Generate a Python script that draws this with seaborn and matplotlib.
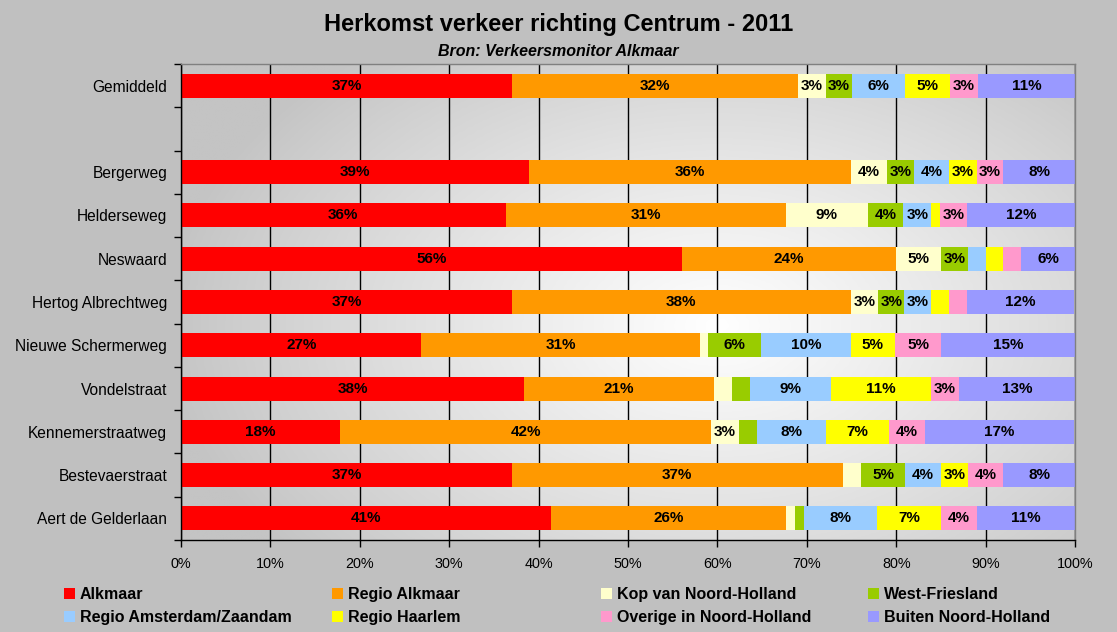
import numpy as np
import pandas as pd
import matplotlib
matplotlib.use('Agg')
import matplotlib.pyplot as plt
from matplotlib.colors import LinearSegmentedColormap
from matplotlib.patches import Patch
import seaborn as sns

# -----------------------------
# Data (percentages per herkomst)
# -----------------------------
straten = ['Gemiddeld', 'Bergerweg', 'Helderseweg', 'Neswaard', 'Hertog Albrechtweg',
           'Nieuwe Schermerweg', 'Vondelstraat', 'Kennemerstraatweg', 'Bestevaerstraat',
           'Aert de Gelderlaan']

alkmaar        = [37.0, 38.9, 36.3, 56.0, 37.0, 26.9, 38.4, 17.8, 37.0, 41.4]
regio_alkmaar  = [32.0, 36.0, 31.4, 24.0, 37.9, 31.1, 21.2, 41.5, 37.0, 26.3]
kop_nh         = [3.1, 4.1, 9.1, 5.0, 3.1, 1.0, 2.0, 3.1, 2.1, 1.0]
west_friesland = [2.9, 3.0, 4.0, 3.0, 2.9, 5.9, 2.0, 2.0, 4.9, 1.0]
regio_adam     = [6.0, 3.9, 3.1, 2.0, 3.0, 10.0, 9.1, 7.8, 4.0, 8.2]
regio_haarlem  = [5.0, 3.1, 1.0, 2.0, 2.0, 5.0, 11.2, 7.0, 3.0, 7.1]
overige_nh     = [3.1, 3.0, 3.0, 2.0, 2.0, 5.1, 3.1, 4.0, 4.0, 4.0]
buiten_nh      = [11.0, 8.0, 12.1, 6.0, 12.0, 15.0, 13.0, 16.7, 8.0, 11.1]

reeksen = ['Alkmaar', 'Regio Alkmaar', 'Kop van Noord-Holland', 'West-Friesland',
           'Regio Amsterdam/Zaandam', 'Regio Haarlem', 'Overige in Noord-Holland',
           'Buiten Noord-Holland']
waarden = [alkmaar, regio_alkmaar, kop_nh, west_friesland, regio_adam,
           regio_haarlem, overige_nh, buiten_nh]
kleuren = ['#FF0000', '#FF9900', '#FFFFCC', '#99CC00', '#99CCFF', '#FFFF00',
           '#FF99CC', '#9999FF']

# empty slot between Gemiddeld and the streets
order = [straten[0], ' '] + straten[1:]

plt.rcParams['font.family'] = ['Liberation Sans', 'DejaVu Sans']

fig = plt.figure(figsize=(11.17, 6.32), dpi=100, facecolor='#C0C0C0')
ax = fig.add_axes([181 / 1117, 1 - 540 / 632, 894 / 1117, 476 / 632])
ax.set_facecolor('none')

# background gradient of the plot area
gx, gy = np.meshgrid(np.linspace(0, 1, 300), np.linspace(0, 1, 200))
r = np.sqrt(((gx - 0.6) / 0.62) ** 2 + ((gy - 0.55) / 0.75) ** 2)
grad = np.clip(1 - r, 0, 1) ** 0.9
cmap = LinearSegmentedColormap.from_list('bg', ['#C4C4C4', '#FFFFFF'])
ax.imshow(grad, extent=[0, 100, 10.5, -0.5], aspect='auto', cmap=cmap,
          vmin=0, vmax=1, zorder=0, interpolation='bilinear')

# stacked bars: draw cumulative totals from the outermost series inwards
cum = np.cumsum(np.array(waarden), axis=0)
for k in range(len(reeksen) - 1, -1, -1):
    df = pd.DataFrame({'straat': straten, 'cum': cum[k]})
    sns.barplot(data=df, x='cum', y='straat', order=order, color=kleuren[k],
                orient='h', width=0.555, linewidth=0, errorbar=None,
                saturation=1, ax=ax)

# value labels
for k in range(len(reeksen)):
    for i, s in enumerate(straten):
        v = waarden[k][i]
        if v >= 2.5:
            mid = cum[k][i] - v / 2
            ax.text(mid, order.index(s), f'{int(v + 0.5)}%', ha='center', va='center',
                    fontsize=11, fontweight='bold', color='black', zorder=5)

ax.set_xlim(0, 100)
ax.set_ylim(10.5, -0.5)
ax.set_xlabel('')
ax.set_ylabel('')

ax.set_xticks(range(0, 101, 10))
ax.set_xticklabels([f'{t}%' for t in range(0, 101, 10)], fontsize=10.4)
ax.tick_params(axis='x', direction='out', length=5, width=1, color='black', pad=7)
ax.set_yticks(range(len(order)))
ax.set_yticklabels(order, fontsize=11.2)
ax.tick_params(axis='y', length=0, pad=10)
ax.set_yticks(np.arange(-0.5, 10.6, 1), minor=True)
ax.tick_params(axis='y', which='minor', direction='out', length=5, width=1, color='black')

ax.xaxis.grid(True, color='black', linewidth=1)
ax.yaxis.grid(False)
ax.set_axisbelow(True)
for side in ['left', 'bottom']:
    ax.spines[side].set_color('black')
    ax.spines[side].set_linewidth(1)
for side in ['top', 'right']:
    ax.spines[side].set_color('#808080')
    ax.spines[side].set_linewidth(1)

fig.text(0.5, 1 - 25 / 632, 'Herkomst verkeer richting Centrum - 2011', ha='center',
         va='center', fontsize=17, fontweight='bold')
fig.text(0.5, 1 - 52 / 632, 'Bron: Verkeersmonitor Alkmaar', ha='center', va='center',
         fontsize=11.5, fontweight='bold', style='italic')

# legend: four columns, two rows each
kolom_x = [64, 332, 601, 868]
for c in range(4):
    idx = [c, c + 4]
    handles = [Patch(facecolor=kleuren[j], edgecolor='none', label=reeksen[j]) for j in idx]
    fig.legend(handles=handles, loc='center left',
               bbox_to_anchor=(kolom_x[c] / 1117, 1 - 606 / 632),
               frameon=False, borderpad=0, borderaxespad=0, handlelength=0.7,
               handleheight=0.7, handletextpad=0.3, labelspacing=0.52,
               prop={'size': 11.5, 'weight': 'bold'})

fig.savefig('out.png', dpi=100, facecolor=fig.get_facecolor())
